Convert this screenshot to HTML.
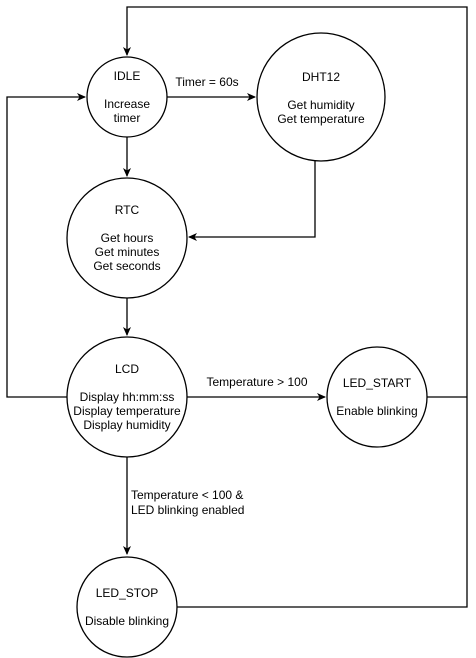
<!DOCTYPE html>
<html><head><meta charset="utf-8"><style>html,body{margin:0;padding:0;background:#fff}svg{display:block}text{font-family:"Liberation Sans",Arial,sans-serif;font-size:12px;fill:#000}</style></head><body>
<svg width="476" height="658" viewBox="0 0 476 658" xmlns="http://www.w3.org/2000/svg">
<defs><marker id="a" markerWidth="10" markerHeight="10" refX="8" refY="5" orient="auto" markerUnits="userSpaceOnUse"><path d="M0,1 L9,5 L0,9 L2.5,5 Z" fill="#000"/></marker></defs>
<g fill="none" stroke="#000" stroke-width="1.3">
<circle cx="127" cy="97" r="40"/>
<circle cx="321" cy="97" r="64"/>
<circle cx="127" cy="238" r="60"/>
<circle cx="127" cy="397" r="60"/>
<circle cx="377" cy="397" r="50"/>
<circle cx="127" cy="607" r="50"/>
<path d="M167,97 H255" marker-end="url(#a)"/>
<path d="M127,137 H127 V176" marker-end="url(#a)"/>
<path d="M315,161 V237 H189" marker-end="url(#a)"/>
<path d="M127,298 V335" marker-end="url(#a)"/>
<path d="M67,397 H7 V97 H85" marker-end="url(#a)"/>
<path d="M187,397 H325" marker-end="url(#a)"/>
<path d="M127,457 V554" marker-end="url(#a)"/>
<path d="M427,397 H467"/>
<path d="M177,607 H467 V7 H127 V55" marker-end="url(#a)"/>
</g>
<g text-anchor="middle">
<text x="127" y="80">IDLE</text><text x="127" y="108">Increase</text><text x="127" y="122">timer</text>
<text x="321" y="81">DHT12</text><text x="321" y="109">Get humidity</text><text x="321" y="123">Get temperature</text>
<text x="127" y="214">RTC</text><text x="127" y="242">Get hours</text><text x="127" y="256">Get minutes</text><text x="127" y="270">Get seconds</text>
<text x="127" y="373">LCD</text><text x="127" y="401">Display hh:mm:ss</text><text x="127" y="415">Display temperature</text><text x="127" y="429">Display humidity</text>
<text x="377" y="387">LED_START</text><text x="377" y="415">Enable blinking</text>
<text x="127" y="597">LED_STOP</text><text x="127" y="625">Disable blinking</text>
<text x="207" y="86">Timer = 60s</text>
<text x="257" y="386">Temperature &gt; 100</text>
</g>
<text x="131" y="499">Temperature &lt; 100 &amp;</text>
<text x="131" y="514">LED blinking enabled</text>
</svg>
</body></html>
